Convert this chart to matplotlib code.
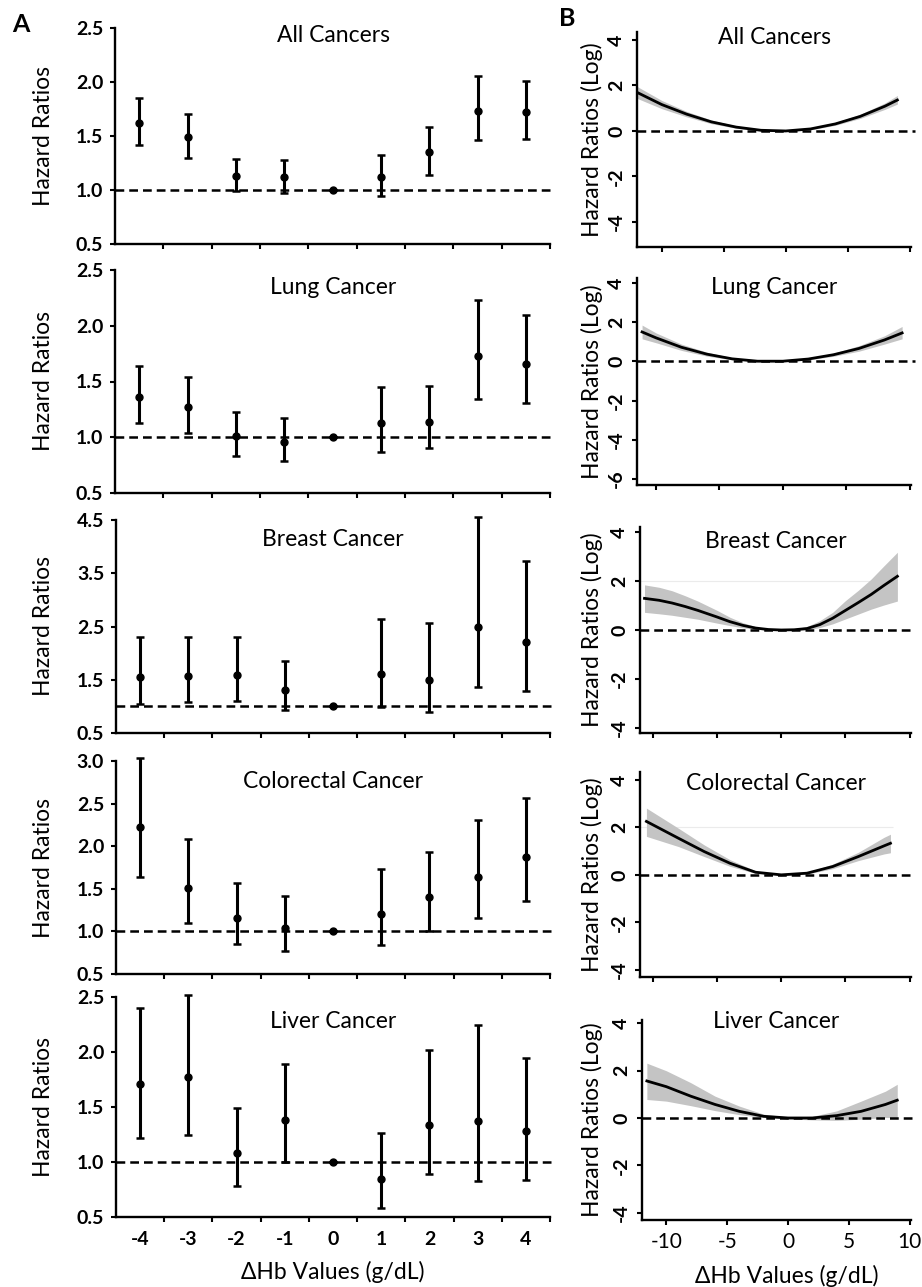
import matplotlib.pyplot as plt
import numpy as np

plt.rcParams['font.family'] = ['Lato', 'DejaVu Sans']

# ---- panel A: hazard ratios by delta Hb ----
hb = [-4, -3, -2, -1, 0, 1, 2, 3, 4]

all_hr = [1.62, 1.49, 1.13, 1.12, 1.00, 1.12, 1.35, 1.73, 1.72]
all_lo = [1.42, 1.30, 0.99, 0.97, 1.00, 0.94, 1.14, 1.46, 1.47]
all_hi = [1.85, 1.70, 1.29, 1.28, 1.00, 1.32, 1.58, 2.06, 2.01]

lung_hr = [1.36, 1.27, 1.01, 0.96, 1.00, 1.13, 1.14, 1.73, 1.66]
lung_lo = [1.13, 1.04, 0.83, 0.79, 1.00, 0.87, 0.90, 1.34, 1.31]
lung_hi = [1.64, 1.54, 1.23, 1.17, 1.00, 1.45, 1.46, 2.23, 2.10]

breast_hr = [1.56, 1.57, 1.59, 1.31, 1.00, 1.61, 1.50, 2.49, 2.20]
breast_lo = [1.04, 1.08, 1.11, 0.93, 1.00, 0.99, 0.89, 1.36, 1.29]
breast_hi = [2.30, 2.30, 2.30, 1.86, 1.00, 2.64, 2.56, 4.55, 3.73]

colo_hr = [2.23, 1.51, 1.16, 1.04, 1.00, 1.21, 1.40, 1.64, 1.87]
colo_lo = [1.64, 1.10, 0.85, 0.77, 1.00, 0.84, 1.01, 1.16, 1.36]
colo_hi = [3.03, 2.08, 1.57, 1.42, 1.00, 1.73, 1.93, 2.31, 2.57]

liver_hr = [1.71, 1.77, 1.08, 1.38, 1.00, 0.85, 1.34, 1.37, 1.28]
liver_lo = [1.22, 1.25, 0.78, 1.00, 1.00, 0.58, 0.89, 0.83, 0.84]
liver_hi = [2.40, 2.52, 1.49, 1.89, 1.00, 1.26, 2.02, 2.25, 1.95]

# ---- panel B: log hazard ratio curves ----
all_x = [-12.2, -10, -8, -6, -4, -2, 0, 2, 4, 6, 8, 9.0]
all_y = [1.75, 1.16, 0.74, 0.40, 0.17, 0.03, 0.0, 0.09, 0.31, 0.64, 1.09, 1.36]
all_blo = [1.48, 0.98, 0.62, 0.32, 0.12, 0.0, -0.02, 0.05, 0.25, 0.55, 0.95, 1.18]
all_bhi = [2.02, 1.34, 0.86, 0.48, 0.22, 0.06, 0.02, 0.13, 0.37, 0.73, 1.23, 1.56]

lung_x = [-11.1, -10, -8, -6, -4, -2, 0, 2, 4, 6, 8, 9.4]
lung_y = [1.50, 1.20, 0.72, 0.37, 0.13, 0.01, 0.01, 0.12, 0.34, 0.66, 1.09, 1.45]
lung_blo = [1.15, 0.95, 0.56, 0.27, 0.08, -0.01, -0.01, 0.08, 0.26, 0.52, 0.88, 1.15]
lung_bhi = [1.85, 1.45, 0.88, 0.47, 0.18, 0.03, 0.03, 0.16, 0.42, 0.80, 1.30, 1.78]

breast_x = [-10.65, -9.5, -8.5, -7.5, -6.5, -5, -4, -3, -2, -1, 0, 1, 2, 3, 4, 5, 6, 7, 8, 9.04]
breast_y = [1.29, 1.21, 1.10, 0.96, 0.80, 0.53, 0.34, 0.19, 0.08, 0.02, 0.0, 0.01, 0.06, 0.22, 0.48, 0.80, 1.12, 1.45, 1.82, 2.19]
breast_blo = [0.72, 0.66, 0.60, 0.52, 0.44, 0.28, 0.18, 0.09, 0.03, 0.0, -0.02, -0.02, 0.0, 0.10, 0.25, 0.45, 0.65, 0.85, 1.02, 1.18]
breast_bhi = [1.84, 1.74, 1.60, 1.40, 1.18, 0.80, 0.52, 0.30, 0.14, 0.05, 0.02, 0.05, 0.14, 0.38, 0.72, 1.20, 1.62, 2.08, 2.62, 3.17]

colo_x = [-10.5, -8, -6, -4, -2, 0, 2, 4, 6, 8, 8.5]
colo_y = [2.25, 1.54, 0.98, 0.49, 0.11, 0.0, 0.07, 0.35, 0.77, 1.22, 1.33]
colo_blo = [1.62, 1.19, 0.77, 0.36, 0.06, -0.02, 0.03, 0.26, 0.60, 0.88, 0.93]
colo_bhi = [2.81, 1.96, 1.26, 0.64, 0.17, 0.02, 0.11, 0.45, 0.95, 1.58, 1.71]

liver_x = [-11.6, -10, -8, -6, -4, -2, 0, 2, 4, 6, 8, 8.97]
liver_y = [1.56, 1.32, 0.92, 0.57, 0.28, 0.07, 0.0, 0.0, 0.10, 0.28, 0.57, 0.75]
liver_blo = [0.78, 0.71, 0.52, 0.31, 0.14, 0.02, -0.04, -0.08, -0.10, -0.05, 0.02, 0.02]
liver_bhi = [2.31, 1.99, 1.49, 0.92, 0.50, 0.16, 0.04, 0.07, 0.30, 0.71, 1.13, 1.42]

titles = ['All Cancers', 'Lung Cancer', 'Breast Cancer', 'Colorectal Cancer', 'Liver Cancer']
left_data = [(all_hr, all_lo, all_hi), (lung_hr, lung_lo, lung_hi),
             (breast_hr, breast_lo, breast_hi), (colo_hr, colo_lo, colo_hi),
             (liver_hr, liver_lo, liver_hi)]
right_data = [(all_x, all_y, all_blo, all_bhi), (lung_x, lung_y, lung_blo, lung_bhi),
              (breast_x, breast_y, breast_blo, breast_bhi), (colo_x, colo_y, colo_blo, colo_bhi),
              (liver_x, liver_y, liver_blo, liver_bhi)]

left_ylims = [(0.5, 2.5), (0.5, 2.5), (0.5, 4.5), (0.5, 3.0), (0.5, 2.5)]
left_ysteps = [0.5, 0.5, 1.0, 0.5, 0.5]
right_ylims = [(-5.1, 4.35), (-6.3, 4.25), (-4.2, 4.2), (-4.3, 4.33), (-4.3, 4.13)]
right_yticks = [[-4, -2, 0, 2, 4], [-6, -4, -2, 0, 2, 4], [-4, -2, 0, 2, 4],
                [-4, -2, 0, 2, 4], [-4, -2, 0, 2, 4]]
right_xlims = [(-12.0, 10.1), (-11.5, 10.1), (-11.0, 10.1), (-11.0, 10.1), (-12.0, 10.1)]
right_xticks = [-10, -5, 0, 5, 10]

# layout in pixels (x0, y0, x1, y1) from the top-left corner
W, H = 922, 1287
left_boxes = [(115, 28, 550, 244), (115, 270, 550, 493), (116, 520, 550, 733),
              (116, 761, 550, 974), (116, 997, 550, 1217)]
right_boxes = [(637, 32, 911, 247), (637, 278, 911, 485), (640, 527, 911, 733),
               (640, 772, 911, 977), (642, 1020, 911, 1220)]
left_title_y = [35, 287, 540, 782, 1022]
right_title_y = [37, 288, 542, 783, 1022]

fig = plt.figure(figsize=(W / 100, H / 100), dpi=100)


def px_box(b):
    x0, y0, x1, y1 = b
    return [x0 / W, 1 - y1 / H, (x1 - x0) / W, (y1 - y0) / H]


def style(ax):
    for s in ['top', 'right']:
        ax.spines[s].set_visible(False)
    for s in ['left', 'bottom']:
        ax.spines[s].set_linewidth(1.7)
    ax.tick_params(which='both', direction='out', width=1.5, length=3.5)


for i in range(5):
    # ---- left column ----
    ax = fig.add_axes(px_box(left_boxes[i]))
    style(ax)
    hr, lo, hi = left_data[i]
    hr = np.array(hr)
    yerr = [hr - np.array(lo), np.array(hi) - hr]
    ax.axhline(1.0, xmax=1.012, color='black', lw=1.8, dashes=(3.5, 2), clip_on=False, zorder=1)
    ax.errorbar(hb, hr, yerr=yerr, fmt='o', color='black', ms=5,
                elinewidth=2.2, capsize=3, capthick=1.8, zorder=3, clip_on=False)
    ax.set_xlim(-4.5, 4.5)
    y0, y1 = left_ylims[i]
    ax.set_ylim(y0, y1)
    yt = np.arange(y0, y1 + 0.01, left_ysteps[i])
    ax.set_yticks(yt, [f'{v:.1f}' for v in yt], fontsize=14, fontweight='bold')
    ax.tick_params(axis='y', pad=5)
    ax.set_xticks(np.arange(-3.5, 4.6, 1.0), minor=True)
    if i == 4:
        ax.set_xticks(hb, [str(v) for v in hb], fontsize=14, fontweight='bold')
        ax.tick_params(axis='x', which='major', length=0, pad=10)
    else:
        ax.set_xticks(hb)
        ax.tick_params(axis='x', which='major', length=0, labelbottom=False)
    fig.text(333 / W, 1 - left_title_y[i] / H, titles[i], ha='center', va='center', fontsize=16.5)
    cy = (left_boxes[i][1] + left_boxes[i][3]) / 2
    fig.text(43 / W, 1 - cy / H, 'Hazard Ratios', rotation=90, ha='center', va='center', fontsize=16.5)

    # ---- right column ----
    ax = fig.add_axes(px_box(right_boxes[i]))
    style(ax)
    x, y, blo, bhi = right_data[i]
    ax.fill_between(x, blo, bhi, color='#c4c4c4', lw=0, zorder=1)
    ax.plot(x, y, color='black', lw=2.0, zorder=3)
    ax.axhline(0.0, xmax=1.015, color='black', lw=1.8, dashes=(3.5, 2), clip_on=False, zorder=2)
    if i == 2:
        ax.hlines(2, right_xlims[i][0], 7.2, color='#ebebeb', lw=0.8, zorder=0)
    if i == 3:
        ax.hlines(2, right_xlims[i][0], 8.7, color='#ebebeb', lw=0.8, zorder=0)
    ax.set_xlim(*right_xlims[i])
    ax.set_ylim(*right_ylims[i])
    ax.set_yticks(right_yticks[i], [str(v) for v in right_yticks[i]], fontsize=14,
                  fontweight='bold', rotation=90, va='center')
    ax.tick_params(axis='y', pad=5)
    if i == 4:
        ax.set_xticks(right_xticks, [str(v) for v in right_xticks], fontsize=15)
        ax.tick_params(axis='x', pad=5)
    else:
        ax.set_xticks(right_xticks)
        ax.tick_params(axis='x', labelbottom=False)
    rb = right_boxes[i]
    fig.text((rb[0] + rb[2]) / 2 / W, 1 - right_title_y[i] / H, titles[i],
             ha='center', va='center', fontsize=16.5)
    cy = (rb[1] + rb[3]) / 2
    fig.text(592 / W, 1 - cy / H, 'Hazard Ratios (Log)', rotation=90, ha='center', va='center', fontsize=16.5)

fig.text(333 / W, 1 - 1272 / H, 'ΔHb Values (g/dL)', ha='center', va='center', fontsize=16.5)
fig.text(787 / W, 1 - 1276 / H, 'ΔHb Values (g/dL)', ha='center', va='center', fontsize=16.5)
fig.text(21 / W, 1 - 24 / H, 'A', ha='center', va='center', fontsize=18, fontweight='bold')
fig.text(567 / W, 1 - 18 / H, 'B', ha='center', va='center', fontsize=18, fontweight='bold')

plt.savefig('out.png', dpi=100)
